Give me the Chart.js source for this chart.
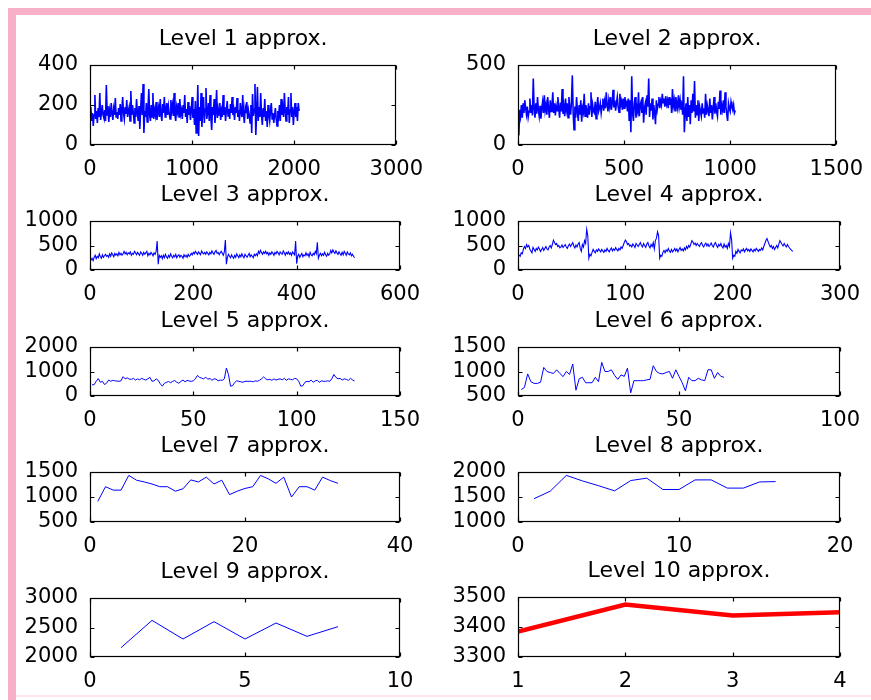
<!DOCTYPE html>
<html>
<head>
<meta charset="utf-8">
<script src="https://cdn.jsdelivr.net/npm/chart.js@4"></script>
<style>
  body { margin: 0; background: #fff; width: 871px; height: 700px; position: relative; overflow: hidden; }
  .frame-top { position: absolute; left: 8px; top: 8px; width: 863px; height: 7px; background: #f8afc8; }
  .frame-left { position: absolute; left: 8px; top: 8px; width: 8px; height: 692px; background: #f8afc8; }
  .frame-bottom { position: absolute; left: 16px; top: 695px; width: 855px; height: 2px; background: #fde3eb; }
  canvas { position: absolute; }
</style>
</head>
<body>
<div class="frame-top"></div>
<div class="frame-left"></div>
<div class="frame-bottom"></div>
<script>
// approximation coefficients, levels 1..10 (levels 1-3 read at a coarser step)
let level1 = [
  190,120,160,95,150,250,130,170,110,185,140,260,125,160,200,150,
  135,175,120,300,150,195,115,170,140,210,160,125,180,150,235,140,
  165,130,185,150,205,120,175,240,160,130,190,155,225,140,170,190,
  120,270,150,200,165,110,185,140,230,160,120,195,80,175,260,150,
  305,60,170,140,210,115,180,280,150,120,200,140,260,130,175,150,
  215,125,165,190,140,230,150,120,205,160,240,140,175,210,150,195,
  160,130,225,170,200,145,260,150,120,190,165,210,140,230,155,175,
  130,200,160,250,140,180,110,215,150,195,125,170,240,135,180,100,
  220,60,140,300,45,190,120,260,90,170,240,110,180,285,130,160,
  210,120,250,140,75,190,150,230,110,165,275,135,180,150,210,125,
  170,140,250,150,190,120,175,220,145,180,130,205,160,240,150,175,
  125,190,160,235,140,175,120,210,165,140,250,150,110,185,160,215,
  130,175,150,110,200,60,255,145,180,305,50,160,290,120,190,140,
  260,150,100,185,140,230,120,170,90,200,150,120,175,210,130,160,
  110,150,185,130,95,170,145,200,120,230,150,185,140,260,170,120,
  190,150,240,110,175,260,140,190,100,165,210,140,190,120,210,170
];
let level2 = [
  60,220,180,250,170,260,200,280,230,190,240,175,210,290,200,250,
  185,415,230,170,260,195,300,220,180,245,165,230,270,200,310,215,
  250,190,300,225,170,280,210,240,330,200,260,185,245,215,300,230,
  170,265,210,350,195,240,180,290,220,260,170,300,230,190,270,435,
  200,95,240,170,300,210,150,250,190,280,145,230,205,320,180,250,
  215,170,260,190,240,330,175,250,210,200,270,165,240,300,210,230,
  260,200,245,290,215,270,230,330,250,210,280,240,300,220,260,345,
  235,280,215,260,300,240,205,320,250,275,220,290,230,300,250,265,
  210,290,150,280,80,430,200,150,260,300,170,240,210,330,180,250,
  270,200,300,140,230,260,190,310,240,415,175,260,215,290,160,250,
  200,130,280,220,255,300,230,275,250,320,265,290,240,305,255,280,
  230,300,250,290,200,350,245,280,215,300,260,230,310,240,280,220,
  270,190,430,80,200,260,150,300,175,250,130,280,200,320,210,400,
  170,250,190,280,150,240,210,180,260,200,230,170,320,190,250,220,
  180,290,200,250,160,230,300,195,260,210,180,270,225,340,190,250,
  220,280,200,330,240,190,150,260,230,210,270,240,220,250,200,215
];
let level3 = [
  200,240,190,260,300,230,280,250,330,270,240,310,260,290,320,280,
  300,260,330,280,350,310,270,340,300,330,290,360,310,340,300,330,
  380,330,360,310,350,330,370,300,340,320,380,350,310,360,330,300,
  370,340,300,360,320,350,380,290,340,310,360,330,290,350,320,380,
  590,120,300,260,290,230,300,250,320,270,240,300,260,330,280,250,
  300,270,320,250,290,310,260,300,280,240,310,270,300,260,320,280,
  300,340,310,360,330,380,350,320,370,340,310,390,350,330,360,320,
  370,340,310,360,330,390,350,320,370,400,340,360,310,350,380,340,
  300,370,610,120,260,320,280,250,310,270,240,300,260,330,290,250,
  310,270,330,280,250,320,290,260,300,340,270,310,280,250,320,290,
  330,290,380,340,400,350,320,370,340,380,330,360,300,350,320,370,
  340,300,360,330,380,350,310,370,340,320,390,350,300,360,330,370,
  320,350,300,370,340,310,590,130,280,320,260,300,340,270,310,290,
  350,300,330,270,360,310,290,340,310,380,330,565,240,300,340,290,
  330,300,360,310,280,340,300,330,400,350,410,370,340,390,350,320,
  370,330,300,360,310,380,340,300,370,330,310,350,290,320,280,250
];
let level4 = [
  310,280,350,330,420,480,440,520,470,500,430,390,350,460,420,380,
  440,410,470,430,380,420,460,400,440,480,430,410,470,500,450,520,
  610,560,520,540,480,500,450,470,510,460,490,520,470,440,500,530,
  480,520,560,490,450,510,470,530,560,440,380,520,470,600,540,830,
  700,240,320,290,360,420,380,350,410,380,430,400,370,420,390,360,
  410,380,440,400,370,420,450,390,430,400,460,420,390,440,410,470,
  440,500,560,610,580,520,540,490,510,470,530,500,460,540,510,480,
  520,560,500,470,540,500,460,530,560,490,450,520,480,560,430,600,
  650,780,700,240,300,280,360,400,350,410,380,440,390,360,420,370,
  400,440,390,430,370,420,460,400,430,390,450,410,480,440,500,470,
  530,600,570,520,550,500,540,510,480,530,560,500,470,520,550,490,
  530,480,510,550,500,470,530,560,500,460,520,490,540,480,450,530,
  470,500,440,540,480,760,620,240,300,280,380,340,420,380,350,410,
  390,430,370,410,440,390,420,380,430,400,370,420,390,440,410,380,
  420,400,450,410,480,540,600,640,580,520,470,500,440,480,420,460,
  500,450,530,600,560,520,490,540,500,470,520,480,450,420,400,380
];
let level5 = [
  460,460,600,710,560,600,470,520,650,600,640,620,610,600,620,790,
  700,740,690,680,720,650,700,660,720,680,650,700,760,600,620,700,
  640,500,400,520,560,590,540,600,630,560,520,600,650,580,640,610,
  600,620,700,840,760,730,700,770,680,720,640,700,690,620,650,640,
  700,1140,880,400,420,550,620,600,580,560,600,600,600,600,580,620,
  600,640,700,780,700,660,680,640,700,650,680,700,660,720,640,700,
  680,660,720,700,600,400,420,560,600,580,650,560,620,640,560,620,
  600,600,620,600,700,880,760,700,720,650,700,680,640,720,660,610
];
let level6 = [
  632,674,951,792,757,757,780,1083,1000,979,960,1035,960,896,1000,940,
  1153,618,850,882,771,771,771,882,792,1187,1000,1000,1035,920,840,930,
  900,1069,563,813,813,813,813,830,840,1118,1000,960,951,980,1000,861,
  1035,900,771,604,882,813,813,861,830,813,1035,1035,861,979,900,882
];
let level7 = [
  911,1206,1137,1137,1432,1336,1301,1260,1206,1206,1116,1164,1342,1301,1397,1260,
  1336,1048,1116,1171,1206,1432,1363,1274,1397,1000,1206,1206,1137,1397,1329,1274
];
let level8 = [1466,1616,1932,1822,1726,1623,1829,1877,1650,1650,1842,1842,1678,1678,1801,1808];
let level9 = [2158,2621,2305,2599,2305,2576,2350,2514];
let level10 = [3385,3475,3438,3449];

let titles = ["Level 1 approx.", "Level 2 approx.", "Level 3 approx.", "Level 4 approx.", "Level 5 approx.",
              "Level 6 approx.", "Level 7 approx.", "Level 8 approx.", "Level 9 approx.", "Level 10 approx."];
let series = [level1, level2, level3, level4, level5, level6, level7, level8, level9, level10];
let xSteps = [8, 4, 2, 1, 1, 1, 1, 1, 1, 1];
// [min, max, tick step]
let xTicks = [[0,3000,1000],[0,1500,500],[0,600,200],[0,300,100],[0,150,50],[0,100,50],[0,40,20],[0,20,10],[0,10,5],[1,4,1]];
let yTicks = [[0,400,200],[0,500,500],[0,1000,500],[0,1000,500],[0,2000,1000],[500,1500,500],[500,1500,500],[1000,2000,500],[2000,3000,500],[3300,3500,100]];

// plot boxes on the page: left, top, right, bottom
const boxes = [[90,65,400,145],[518,65,840,145],[90,221,400,270],[518,221,840,270],[90,347,400,396],
               [518,347,840,396],[90,472,400,522],[518,472,840,522],[90,598,400,657],[518,597,840,657]];
const lineWidths = [1.6, 1.6, 1.1, 1.1, 1, 1, 1, 1, 1, 4.5];
const padL = 85, padT = 45, padR = 35, padB = 35;
const tickFont = { family: "DejaVu Sans", size: 21 };

const matlabBox = {
    id: "matlabBox",
    afterDraw(chart, args, opts) {
        let ctx = chart.ctx, a = chart.chartArea, x = chart.scales.x, y = chart.scales.y;
        ctx.save();
        ctx.strokeStyle = "#000";
        ctx.lineWidth = 1.2;
        let l = Math.round(a.left) + 0.5, t = Math.round(a.top) + 0.5;
        let r = Math.round(a.right) - 0.5, b = Math.round(a.bottom) - 0.5;
        ctx.strokeRect(l, t, r - l, b - t);
        ctx.beginPath();
        x.ticks.forEach(tk => {
            let px = Math.round(x.getPixelForValue(tk.value)) + 0.5;
            ctx.moveTo(px, b); ctx.lineTo(px, b - 4);
            ctx.moveTo(px, t); ctx.lineTo(px, t + 4);
        });
        y.ticks.forEach(tk => {
            let py = Math.round(y.getPixelForValue(tk.value)) + 0.5;
            ctx.moveTo(l, py); ctx.lineTo(l + 4, py);
            ctx.moveTo(r, py); ctx.lineTo(r - 4, py);
        });
        ctx.stroke();
        ctx.fillStyle = "#000";
        ctx.font = '22px "DejaVu Sans"';
        ctx.textAlign = "center";
        ctx.textBaseline = "alphabetic";
        ctx.fillText(opts.text, (a.left + a.right) / 2, a.top - 20);
        ctx.restore();
    }
};

series.forEach((values, i) => {
    let [x1, y1, x2, y2] = boxes[i];
    let canvas = document.createElement("canvas");
    canvas.width = (x2 - x1) + padL + padR;
    canvas.height = (y2 - y1) + padT + padB;
    canvas.style.left = (x1 - padL) + "px";
    canvas.style.top = (y1 - padT) + "px";
    document.body.appendChild(canvas);

    new Chart(canvas, {
        type: "line",
        data: {
            datasets: [{
                data: values.map((v, k) => ({ x: (k + 1) * xSteps[i], y: v })),
                borderColor: i === 9 ? "#ff0000" : "#0000ff",
                borderWidth: lineWidths[i],
                pointRadius: 0,
                tension: 0,
                fill: false
            }]
        },
        options: {
            responsive: false,
            animation: false,
            events: [],
            layout: { padding: { top: padT, right: padR, left: 0, bottom: 0 } },
            plugins: {
                legend: { display: false },
                tooltip: { enabled: false },
                matlabBox: { text: titles[i] }
            },
            scales: {
                x: {
                    type: "linear",
                    min: xTicks[i][0], max: xTicks[i][1],
                    ticks: { stepSize: xTicks[i][2], font: tickFont, color: "#000", padding: 12, maxRotation: 0, autoSkip: false, callback: v => String(v) },
                    grid: { display: false, drawTicks: false },
                    border: { display: false },
                    afterFit: s => { s.height = padB; }
                },
                y: {
                    type: "linear",
                    min: yTicks[i][0], max: yTicks[i][1],
                    ticks: { stepSize: yTicks[i][2], font: tickFont, color: "#000", padding: 12, autoSkip: false, callback: v => String(v) },
                    grid: { display: false, drawTicks: false },
                    border: { display: false },
                    afterFit: s => { s.width = padL; }
                }
            }
        },
        plugins: [matlabBox]
    });
});
</script>
</body>
</html>
